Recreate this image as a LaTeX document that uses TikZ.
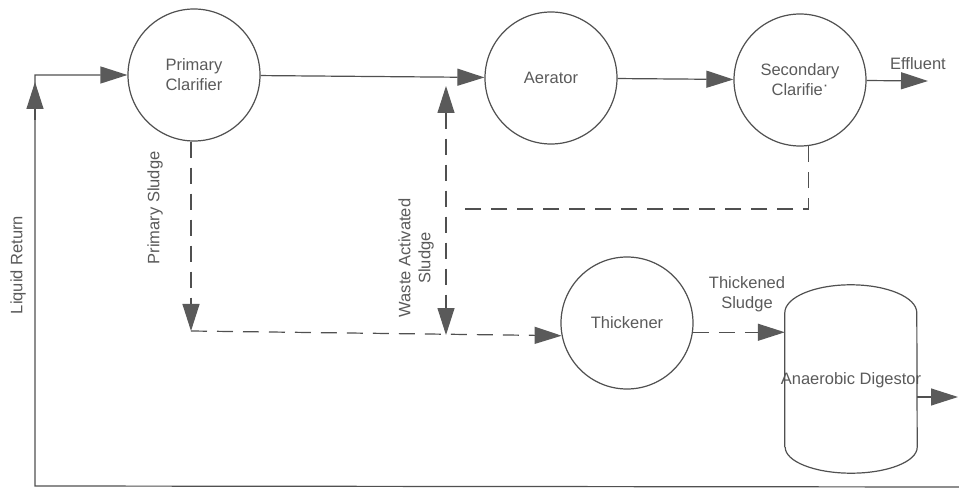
\documentclass[tikz,border=0pt]{standalone}
\usepackage{fontspec}
\setmainfont{Liberation Sans}
\usetikzlibrary{arrows.meta}
\definecolor{ink}{HTML}{505050}
\definecolor{txt}{HTML}{5A5A5A}
\definecolor{tip}{HTML}{5A5A5A}
\begin{document}
\begin{tikzpicture}[x=1pt,y=-1pt,
  every node/.style={font=\fontsize{16.5}{20}\selectfont, text=txt},
  unit/.style={circle, draw=ink, line width=1.2pt, minimum size=132pt, inner sep=0pt, align=center},
  tri/.tip={Triangle[length=27pt,width=17pt,fill=tip,color=tip]},
  flow/.style={draw=ink, line width=1.2pt, -tri},
  plain/.style={draw=ink, line width=1.2pt},
  sludge/.style={draw=ink, line width=1.2pt, dash pattern=on 16pt off 10pt},
  lbl/.style={align=center, inner sep=0pt}]
\useasboundingbox (0,0) rectangle (959,497);
% units
\node[unit] (pc) at (194,75) {Primary\\Clarifier};
\node[unit] (aer) at (551,78) {Aerator};
\node[unit] (sec) at (800,80) {Secondary\\Clarifie\raisebox{0.3em}{·}};
\node[unit] (thk) at (627,323) {Thickener};
\node[inner sep=0pt, minimum width=132pt, minimum height=134pt] (dig) at (851,380) {\makebox[0pt]{Anaerobic Digestor}};
\draw[plain] (dig.south west) -- (dig.north west)
  arc[start angle=180, end angle=0, x radius=66pt, y radius=28pt]
  -- (dig.south east)
  arc[start angle=0, end angle=-180, x radius=66pt, y radius=26pt];
% coordinates
\coordinate (lt) at (35,75);
\coordinate (lb) at (35,486);
\coordinate (rr) at (959,487);
\coordinate (eff) at (928,81);
\coordinate (ps) at (191,331);
\coordinate (wasT) at (446,86);
\coordinate (wasB) at (446,335);
\coordinate (wasH) at (458,209);
\coordinate (dout) at (958,397);
% liquid return
\draw[flow] (rr) -- (lb) -- (lt) -- (pc);
\draw[flow] (35,120) -- (35,82);
% main line
\draw[flow] (pc) -- (aer);
\draw[flow] (aer) -- (sec);
\draw[flow] (sec) -- (eff);
\node[lbl] (efflbl) at (918,64) {Effluent};
% primary sludge
\draw[sludge, -tri] (pc.south -| ps) -- (ps);
\draw[sludge, -tri] (ps) -- (thk.191);
% waste activated sludge
\draw[sludge, tri-tri] (wasT) -- (wasB);
\draw[sludge] (sec.-83) |- (wasH);
% thickened sludge
\draw[sludge, -tri] (thk.-8) -- (thk.-8 -| dig.west);
\node[lbl] (tslbl) at (747,294) {Thickened\\Sludge};
% digestor outlet
\draw[flow] (dout -| dig.east) -- (dout);
% rotated labels
\node[lbl, rotate=90] (lrlbl) at (18,265) {Liquid Return};
\node[lbl, rotate=90] (pslbl) at (155,208) {Primary Sludge};
\node[lbl, rotate=90] (waslbl) at (416,258) {Waste Activated\\Sludge};
\end{tikzpicture}
\end{document}
